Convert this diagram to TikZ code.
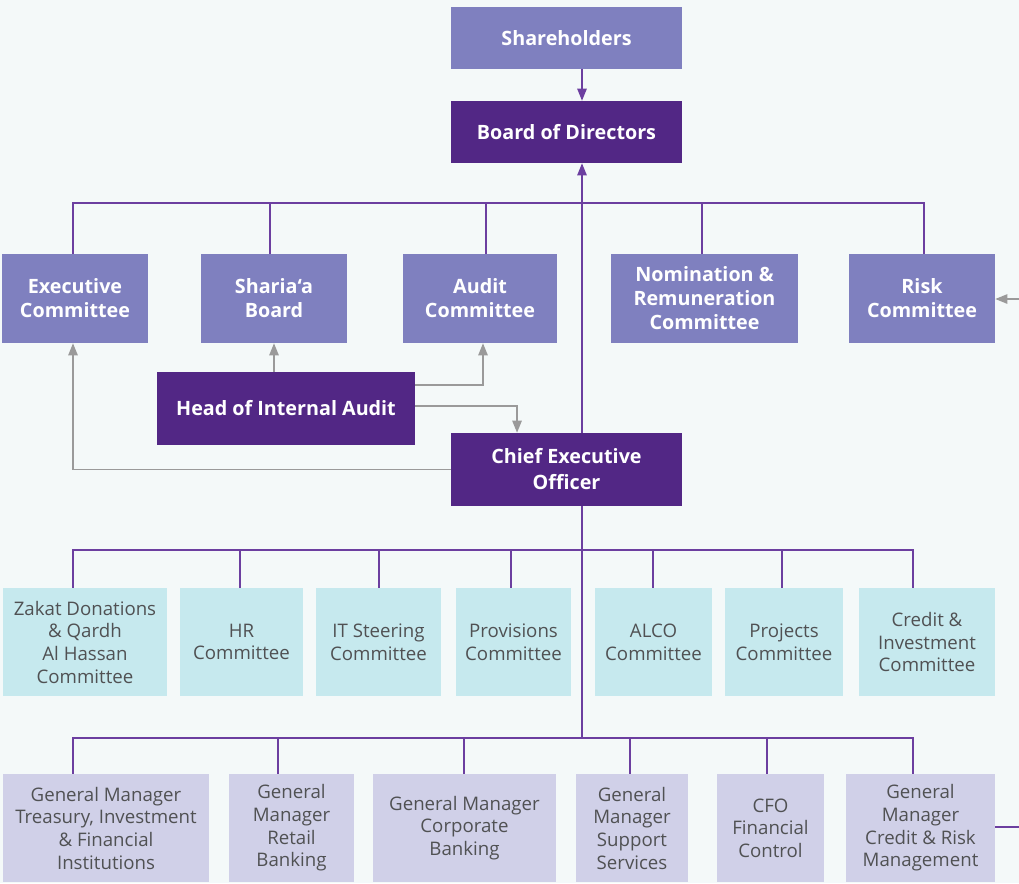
\documentclass[tikz,border=0pt]{standalone}
\usepackage{fontspec}
\setmainfont{Open Sans}
\usetikzlibrary{arrows.meta}
\definecolor{bgc}{HTML}{F4F9F9}
\definecolor{midp}{HTML}{7F80BF}
\definecolor{darkp}{HTML}{522785}
\definecolor{cyanc}{HTML}{C6E9EE}
\definecolor{lavc}{HTML}{D0D0E8}
\definecolor{txtg}{HTML}{505153}
\definecolor{linep}{HTML}{6C3FA0}
\definecolor{grayl}{HTML}{9A9A9A}
\newcommand\bx[7]{\node[#6, minimum width={(#4-#2)*0.75pt}, minimum height={(#5-#3)*0.75pt}] (#1) at ({(#2+#4)/2},{(#3+#5)/2}) {#7};}
\begin{document}
\begin{tikzpicture}[x=0.75pt,y=-0.75pt,
  boxbase/.style={inner sep=0pt, align=center, draw=none},
  mid/.style={boxbase, fill=midp, text=white, font=\bfseries\fontsize{14.8}{18}\selectfont},
  dark/.style={boxbase, fill=darkp, text=white, font=\bfseries\fontsize{14.8}{19.5}\selectfont},
  cyanb/.style={boxbase, fill=cyanc, text=txtg, font=\fontsize{14}{17}\selectfont},
  lav/.style={boxbase, fill=lavc, text=txtg, font=\fontsize{14}{17}\selectfont},
  pl/.style={draw=linep, line width=1.1pt},
  gl/.style={draw=grayl, line width=1.1pt},
  pa/.style={pl, -{Triangle[length=9pt,width=7pt]}},
  ga/.style={gl, -{Triangle[length=9pt,width=7pt]}}]
\fill[bgc] (0,0) rectangle (1019,883);
\useasboundingbox (0,0) rectangle (1019,883);
% top
\bx{sh}{451}{7}{682}{69}{mid}{Shareholders}
\bx{bod}{451}{101}{682}{163}{dark}{Board of Directors}
% committees
\bx{exe}{2}{254}{148}{343}{mid}{Executive\\Committee}
\bx{sha}{201}{254}{347}{343}{mid}{Sharia‘a\\Board}
\bx{aud}{403}{254}{557}{343}{mid}{Audit\\Committee}
\bx{nom}{611}{254}{798}{343}{mid}{Nomination \&\\Remuneration\\Committee}
\bx{risk}{849}{254}{995}{343}{mid}{Risk\\Committee}
\bx{hia}{157}{372}{415}{445}{dark}{Head of Internal Audit}
\bx{ceo}{451}{433}{682}{506}{dark}{Chief Executive\\Officer}
% management committees
\bx{zak}{3}{588}{167}{696}{cyanb}{Zakat Donations\\\& Qardh\\Al Hassan\\Committee}
\bx{hr}{180}{588}{303}{696}{cyanb}{HR\\Committee}
\bx{its}{316}{588}{441}{696}{cyanb}{IT Steering\\Committee}
\bx{pro}{456}{588}{571}{696}{cyanb}{Provisions\\Committee}
\bx{alc}{595}{588}{712}{696}{cyanb}{ALCO\\Committee}
\bx{prj}{725}{588}{843}{696}{cyanb}{Projects\\Committee}
\bx{cri}{859}{588}{995}{696}{cyanb}{Credit \&\\Investment\\Committee}
% general managers
\bx{tre}{3}{774}{209}{882}{lav}{General Manager\\Treasury, Investment\\\& Financial\\Institutions}
\bx{ret}{229}{774}{354}{882}{lav}{General\\Manager\\Retail\\Banking}
\bx{cor}{373}{774}{556}{882}{lav}{General Manager\\Corporate\\Banking}
\bx{sup}{576}{774}{688}{882}{lav}{General\\Manager\\Support\\Services}
\bx{cfo}{717}{774}{824}{882}{lav}{CFO\\Financial\\Control}
\bx{crm}{846}{774}{995}{882}{lav}{General\\Manager\\Credit \& Risk\\Management}
% coordinates
\coordinate (v) at (582,203);
\coordinate (b1) at (0,203);
\coordinate (b2) at (0,550);
\coordinate (b3) at (0,738);
\coordinate (rin) at (1019,299);
\coordinate (rout) at (1019,827);
% purple connectors
\draw[pa] (sh.south -| v) -- (bod.north -| v);
\draw[pa] (ceo.north -| v) -- (bod.south -| v);
\draw[pl] ([xshift=-1.5pt]exe.north) -- ([xshift=-1.5pt]exe.north |- b1) -- ([xshift=1.5pt]risk.north |- b1) -- ([xshift=1.5pt]risk.north);
\draw[pl] ([xshift=-3pt]sha.north) -- ([xshift=-3pt]sha.north |- b1);
\draw[pl] ([xshift=4.5pt]aud.north) -- ([xshift=4.5pt]aud.north |- b1);
\draw[pl] ([xshift=-2pt]nom.north) -- ([xshift=-2pt]nom.north |- b1);
\draw[pl] (ceo.south -| v) -- (v |- b3);
\draw[pl] ([xshift=-9pt]zak.north) -- ([xshift=-9pt]zak.north |- b2) -- ([xshift=-10.5pt]cri.north |- b2) -- ([xshift=-10.5pt]cri.north);
\draw[pl] ([xshift=-1pt]hr.north) -- ([xshift=-1pt]hr.north |- b2);
\draw[pl] ([xshift=0.4pt]its.north) -- ([xshift=0.4pt]its.north |- b2);
\draw[pl] ([xshift=-2pt]pro.north) -- ([xshift=-2pt]pro.north |- b2);
\draw[pl] ([xshift=-0.4pt]alc.north) -- ([xshift=-0.4pt]alc.north |- b2);
\draw[pl] ([xshift=-1.5pt]prj.north) -- ([xshift=-1.5pt]prj.north |- b2);
\draw[pl] ([xshift=-24.75pt]tre.north) -- ([xshift=-24.75pt]tre.north |- b3) -- ([xshift=-5.6pt]crm.north |- b3) -- ([xshift=-5.6pt]crm.north);
\draw[pl] ([xshift=-10pt]ret.north) -- ([xshift=-10pt]ret.north |- b3);
\draw[pl] ([xshift=-0.4pt]cor.north) -- ([xshift=-0.4pt]cor.north |- b3);
\draw[pl] ([xshift=-1.5pt]sup.north) -- ([xshift=-1.5pt]sup.north |- b3);
\draw[pl] ([xshift=-2.6pt]cfo.north) -- ([xshift=-2.6pt]cfo.north |- b3);
\draw[pl] (crm.east |- rout) -- (rout);
% gray connectors
\draw[ga] (rin) -- (risk.east |- rin);
\draw[ga] (hia.north -| sha.south) -- (sha.south);
\draw[ga] ([yshift=17.6pt]hia.east) -| ([xshift=2.25pt]aud.south);
\draw[ga] ([yshift=1.9pt]hia.east) -| ([xshift=-37.1pt]ceo.north);
\draw[ga] (ceo.west) -| ([xshift=-1.5pt]exe.south);
\end{tikzpicture}
\end{document}
